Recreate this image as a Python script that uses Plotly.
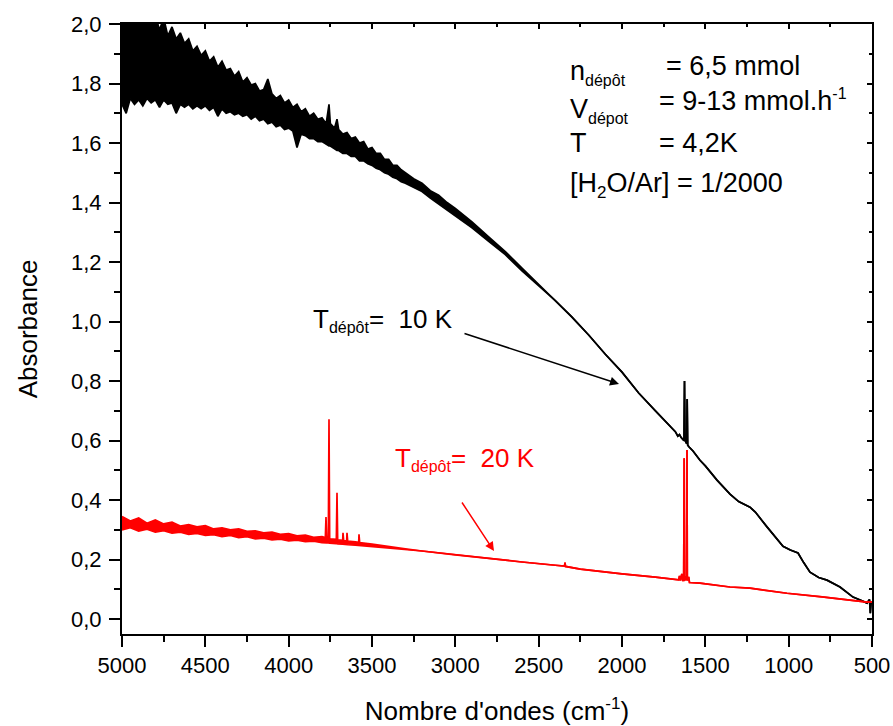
import plotly.graph_objects as go

# ---------------- data ----------------
# T_depot = 10 K spectrum: wavenumber, upper and lower envelope of the noisy trace
bk_wn = [5000, 4975, 4950, 4925, 4900, 4875, 4850, 4825, 4800, 4775, 4750, 4725, 4700,
         4675, 4650, 4625, 4600, 4575, 4550, 4525, 4500, 4475, 4450, 4425, 4400, 4375,
         4350, 4325, 4300, 4275, 4250, 4225, 4200, 4175, 4150, 4125, 4100, 4075, 4050,
         4025, 4000, 3975, 3950, 3925, 3900, 3875, 3850, 3825, 3800, 3775, 3758, 3750,
         3725, 3710, 3700, 3675, 3650, 3625, 3600, 3575, 3550, 3525, 3500, 3475, 3450,
         3425, 3400, 3375, 3350, 3325, 3300,
         3250, 3200, 3150, 3100, 3050, 3000, 2900, 2800, 2700, 2600, 2500, 2400,
         2300, 2200, 2100, 2000, 1900, 1800, 1700, 1680, 1665, 1655, 1645, 1635, 1628,
         1625, 1622, 1612, 1609, 1606, 1600, 1574, 1532, 1500, 1430, 1352, 1300, 1232,
         1200, 1130, 1034, 990, 944, 910, 872, 820, 770, 692, 614, 560, 530, 515, 510,
         505, 500]
bk_hi = [2.05, 2.10, 2.03, 2.08, 2.04, 2.00, 2.06, 1.99, 2.03, 1.98, 2.02, 1.96, 1.99,
         1.95, 1.97, 1.935, 1.95, 1.91, 1.925, 1.895, 1.91, 1.875, 1.89, 1.855, 1.875, 1.845,
         1.85, 1.825, 1.84, 1.805, 1.82, 1.795, 1.80, 1.775, 1.78, 1.815, 1.765, 1.75, 1.76,
         1.735, 1.745, 1.72, 1.73, 1.705, 1.715, 1.69, 1.70, 1.68, 1.685, 1.665, 1.73, 1.665,
         1.65, 1.68, 1.645, 1.63, 1.635, 1.615, 1.62, 1.60, 1.605, 1.58, 1.585, 1.565, 1.565,
         1.545, 1.545, 1.525, 1.525, 1.51, 1.50,
         1.48, 1.465, 1.44, 1.425, 1.40, 1.38, 1.335, 1.285, 1.235, 1.18, 1.125, 1.07,
         1.015, 0.955, 0.89, 0.83, 0.76, 0.70, 0.64, 0.63, 0.615, 0.62, 0.61, 0.605, 0.60,
         0.80, 0.60, 0.59, 0.74, 0.585, 0.58, 0.565, 0.534, 0.515, 0.467, 0.42, 0.395, 0.376,
         0.36, 0.31, 0.245, 0.232, 0.222, 0.19, 0.158, 0.14, 0.131, 0.108, 0.074, 0.062, 0.054,
         0.066, 0.02, 0.06, 0.05]
bk_lo = [1.73, 1.70, 1.75, 1.73, 1.745, 1.725, 1.75, 1.735, 1.745, 1.72, 1.745, 1.73, 1.735,
         1.70, 1.73, 1.72, 1.73, 1.715, 1.725, 1.715, 1.725, 1.71, 1.72, 1.69, 1.715, 1.70,
         1.705, 1.695, 1.70, 1.69, 1.695, 1.68, 1.69, 1.675, 1.68, 1.665, 1.67, 1.655, 1.66,
         1.645, 1.65, 1.64, 1.585, 1.63, 1.625, 1.615, 1.615, 1.605, 1.605, 1.595, 1.59, 1.59,
         1.58, 1.575, 1.575, 1.565, 1.565, 1.555, 1.555, 1.54, 1.54, 1.53, 1.525, 1.515, 1.51,
         1.50, 1.495, 1.485, 1.48, 1.47, 1.465,
         1.45, 1.437, 1.415, 1.395, 1.375, 1.355, 1.315, 1.27, 1.225, 1.17, 1.12, 1.07,
         1.015, 0.955, 0.89, 0.83, 0.76, 0.70, 0.64, 0.63, 0.615, 0.62, 0.61, 0.605, 0.60,
         0.80, 0.60, 0.59, 0.74, 0.585, 0.58, 0.565, 0.534, 0.515, 0.467, 0.42, 0.395, 0.376,
         0.36, 0.31, 0.245, 0.232, 0.222, 0.19, 0.158, 0.14, 0.131, 0.108, 0.074, 0.062, 0.054,
         0.066, 0.02, 0.06, 0.05]

# T_depot = 20 K spectrum: wavenumber, upper and lower envelope
rd_wn = [5000, 4950, 4900, 4850, 4800, 4750, 4700, 4650, 4600, 4550, 4500, 4450, 4400,
         4350, 4300, 4250, 4200, 4150, 4100, 4050, 4000, 3950, 3900, 3850, 3800, 3780,
         3776, 3772, 3762, 3758, 3754, 3714, 3710, 3706, 3676, 3674, 3670, 3652, 3650,
         3646, 3600, 3580, 3578, 3574, 3500, 3400, 3300, 3200, 3000, 2800, 2600, 2400,
         2345, 2342, 2339, 2250, 2130, 2000, 1800, 1670, 1660, 1655, 1650, 1641, 1636,
         1630, 1627, 1624, 1615, 1612, 1610, 1608, 1600, 1595, 1532, 1352, 1232, 1010,
         800, 600, 530, 500]
rd_hi = [0.345, 0.33, 0.34, 0.322, 0.333, 0.32, 0.326, 0.313, 0.318, 0.31, 0.314, 0.303, 0.307,
         0.30, 0.303, 0.295, 0.297, 0.29, 0.292, 0.285, 0.287, 0.28, 0.282, 0.275, 0.277, 0.274,
         0.343, 0.272, 0.27, 0.672, 0.27, 0.268, 0.425, 0.266, 0.265, 0.29, 0.264, 0.263, 0.29,
         0.262, 0.26, 0.258, 0.285, 0.257, 0.252, 0.243, 0.236, 0.229, 0.216, 0.203, 0.192, 0.181,
         0.178, 0.19, 0.177, 0.168, 0.16, 0.152, 0.141, 0.131, 0.132, 0.145, 0.13, 0.152, 0.13,
         0.13, 0.541, 0.13, 0.145, 0.13, 0.568, 0.13, 0.142, 0.123, 0.121, 0.108, 0.104, 0.087,
         0.075, 0.062, 0.057, 0.058]
rd_lo = [0.30, 0.307, 0.296, 0.302, 0.292, 0.297, 0.289, 0.292, 0.285, 0.288, 0.281, 0.284, 0.277,
         0.281, 0.274, 0.277, 0.27, 0.272, 0.266, 0.269, 0.263, 0.265, 0.26, 0.262, 0.257, 0.258,
         0.257, 0.256, 0.256, 0.255, 0.255, 0.254, 0.253, 0.253, 0.252, 0.252, 0.252, 0.251, 0.251,
         0.25, 0.249, 0.248, 0.248, 0.247, 0.244, 0.238, 0.233, 0.229, 0.216, 0.203, 0.192, 0.181,
         0.178, 0.19, 0.177, 0.168, 0.16, 0.152, 0.141, 0.131, 0.132, 0.145, 0.13, 0.152, 0.13,
         0.13, 0.541, 0.13, 0.145, 0.13, 0.568, 0.13, 0.142, 0.123, 0.121, 0.108, 0.104, 0.087,
         0.075, 0.062, 0.057, 0.058]

x_tick_vals = [5000, 4500, 4000, 3500, 3000, 2500, 2000, 1500, 1000, 500]
x_tick_text = ["5000", "4500", "4000", "3500", "3000", "2500", "2000", "1500", "1000", "500"]
y_tick_vals = [0.0, 0.2, 0.4, 0.6, 0.8, 1.0, 1.2, 1.4, 1.6, 1.8, 2.0]
y_tick_text = ["0,0", "0,2", "0,4", "0,6", "0,8", "1,0", "1,2", "1,4", "1,6", "1,8", "2,0"]

# ---------------- figure ----------------
W, H = 893, 726
L, R, T, B = 122, 21, 24, 92
PW, PH = W - L - R, H - T - B
FONT = "Liberation Sans, Arial, sans-serif"


def px_x(px):
    return (px - L) / PW


def px_y(py):
    return (H - B - py) / PH


def small(s, size=16):
    return "<span style='font-size:%dpx'>%s</span>" % (size, s)


fig = go.Figure()
LW = 1.7
fig.add_trace(go.Scatter(x=bk_wn, y=bk_hi, mode="lines", line=dict(color="black", width=LW),
                         showlegend=False, hoverinfo="skip"))
fig.add_trace(go.Scatter(x=bk_wn, y=bk_lo, mode="lines", line=dict(color="black", width=LW),
                         fill="tonexty", fillcolor="black", showlegend=False, hoverinfo="skip"))
fig.add_trace(go.Scatter(x=rd_wn, y=rd_hi, mode="lines", line=dict(color="#ff0000", width=LW),
                         xaxis="x2", yaxis="y2", showlegend=False, hoverinfo="skip"))
fig.add_trace(go.Scatter(x=rd_wn, y=rd_lo, mode="lines", line=dict(color="#ff0000", width=LW),
                         fill="tonexty", fillcolor="#ff0000", xaxis="x2", yaxis="y2",
                         showlegend=False, hoverinfo="skip"))

xr = [5000, 500]
yr = [-0.05, 2.0]
common = dict(showgrid=False, zeroline=False, tickcolor="black", tickwidth=2)

fig.update_layout(
    width=W, height=H, margin=dict(l=L, r=R, t=T, b=B, autoexpand=False),
    paper_bgcolor="white", plot_bgcolor="white",
    font=dict(family=FONT, color="black", size=22),
    xaxis=dict(range=xr, tickmode="array", tickvals=x_tick_vals, ticktext=x_tick_text,
               ticks="outside", ticklen=11, showline=True, linecolor="black", linewidth=2,
               mirror=True, tickfont=dict(size=22, family=FONT),
               minor=dict(ticks="outside", ticklen=6, tickwidth=2, tickcolor="black",
                          tickmode="linear", tick0=0, dtick=250, showgrid=False),
               title=dict(text="Nombre d'ondes (cm" + "<sup>" + small("-1", 17) + "</sup>)",
                          font=dict(size=26, family=FONT), standoff=26),
               **common),
    yaxis=dict(range=yr, tickmode="array", tickvals=y_tick_vals, ticktext=y_tick_text,
               ticks="outside", ticklen=11, showline=True, linecolor="black", linewidth=2,
               mirror=True, tickfont=dict(size=22, family=FONT), ticklabelstandoff=3,
               minor=dict(ticks="outside", ticklen=6, tickwidth=2, tickcolor="black",
                          tickmode="linear", tick0=0, dtick=0.1, showgrid=False),
               title=dict(text="Absorbance", font=dict(size=26, family=FONT), standoff=26),
               **common),
    xaxis2=dict(range=xr, overlaying="x", side="top", anchor="y", tickmode="array",
                tickvals=x_tick_vals, ticks="inside", ticklen=5, showticklabels=False,
                showline=False,
                minor=dict(ticks="inside", ticklen=3, tickwidth=2, tickcolor="black",
                           tickmode="linear", tick0=0, dtick=250, showgrid=False),
                **common),
    yaxis2=dict(range=yr, overlaying="y", side="right", anchor="x", tickmode="array",
                tickvals=y_tick_vals, ticks="inside", ticklen=5, showticklabels=False,
                showline=False,
                minor=dict(ticks="inside", ticklen=3, tickwidth=2, tickcolor="black",
                           tickmode="linear", tick0=0, dtick=0.1, showgrid=False),
                **common),
)

NB = "\u00a0"
texts = [
    # (text, left px, centre px, size, colour)
    ("n<sub>" + small("dépôt") + "</sub>", 568, 72, 27, "black"),
    ("= 6,5 mmol", 664, 66, 27, "black"),
    ("V<sub>" + small("dépot") + "</sub>", 568, 110, 27, "black"),
    ("= 9-13 mmol.h<sup>" + small("-1") + "</sup>", 657, 100, 27, "black"),
    ("T", 568, 143, 27, "black"),
    ("= 4,2K", 657, 143, 27, "black"),
    ("[H<sub>" + small("2", 17) + "</sub>O/Ar] = 1/2000", 568, 185, 27, "black"),
    ("T<sub>" + small("dépôt") + "</sub>=" + NB + NB + "10 K", 311, 320, 26, "black"),
    ("T<sub>" + small("dépôt") + "</sub>=" + NB + NB + "20 K", 393, 459, 26, "#ff0000"),
]
anns = []
for t, lx, cy, sz, col in texts:
    anns.append(dict(text=t, x=px_x(lx), y=px_y(cy), xref="paper", yref="paper",
                     xanchor="left", yanchor="middle", showarrow=False,
                     font=dict(size=sz, color=col, family=FONT)))

arrows = [
    # head px, tail px, colour
    ((619, 384), (463, 333), "black"),
    ((494, 551), (461, 501), "#ff0000"),
]
for (hx, hy), (tx, ty), col in arrows:
    anns.append(dict(text="", x=px_x(hx), y=px_y(hy), xref="paper", yref="paper",
                     ax=tx - hx, ay=ty - hy, showarrow=True, arrowhead=2, arrowsize=1.2,
                     arrowwidth=1.5, arrowcolor=col, standoff=0))

fig.update_layout(annotations=anns)
fig.write_html("out.html", config={"displayModeBar": False},
               post_script="document.body.style.margin='0px';")
